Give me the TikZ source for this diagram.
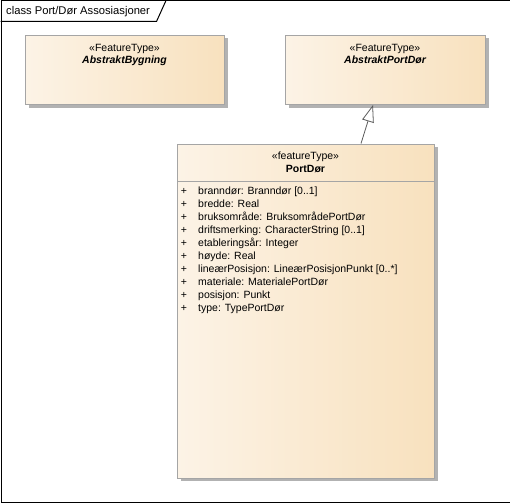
\documentclass[tikz,border=0pt]{standalone}
\usepackage{fontspec}
\setmainfont{Liberation Sans}
\usetikzlibrary{arrows.meta,shadows}
\definecolor{gradL}{RGB}{252,243,230}
\definecolor{gradR}{RGB}{248,225,190}
\definecolor{bordergray}{RGB}{165,165,165}
\definecolor{shadowgray}{RGB}{178,178,178}
\definecolor{linegray}{RGB}{90,90,90}
\begin{document}
\begin{tikzpicture}[x=1pt,y=-1pt,
  classbox/.style={draw=bordergray, line width=1pt, left color=gradL, right color=gradR,
    anchor=north west, inner sep=0pt,
    drop shadow={shadow xshift=3pt, shadow yshift=-3pt, fill=shadowgray, opacity=1}},
  txt/.style={font=\fontsize{10.5}{12}\selectfont, inner sep=0pt, anchor=base},
  attr/.style={font=\fontsize{10.5}{12}\selectfont, inner sep=0pt, anchor=base west},
  genarrow/.style={draw=linegray, line width=0.8pt, -{Triangle[open, length=17pt, width=12pt, fill=white]}}]
\useasboundingbox (0,0) rectangle (510,503);
% frame
\node[draw=black, line width=1pt, anchor=north west, minimum width=509pt, minimum height=501.5pt, inner sep=0pt] (frame) at (0.5,0.5) {};
\draw[line width=1pt] (0.5,21.5) -- (156.5,21.5) -- (166,0.5);
\node[font=\fontsize{11.2}{13}\selectfont, inner sep=0pt, anchor=base west] (title) at (6,14.5) {class Port/Dør Assosiasjoner};
% AbstraktBygning
\node[classbox, minimum width=199pt, minimum height=69pt] (ab) at (25,35) {};
\node[txt] (abs) at (124.5,51.5) {«FeatureType»};
\node[txt, font=\fontsize{10.5}{12}\selectfont\bfseries\itshape] (abn) at (124.5,63.5) {AbstraktBygning};
% AbstraktPortDør
\node[classbox, minimum width=200pt, minimum height=69pt] (apd) at (285,35) {};
\node[txt] (apds) at (385,51.5) {«FeatureType»};
\node[txt, font=\fontsize{10.5}{12}\selectfont\bfseries\itshape] (apdn) at (385,63.5) {AbstraktPortDør};
% PortDør
\node[classbox, minimum width=257pt, minimum height=334pt] (pd) at (177,143.5) {};
\draw[draw=bordergray, line width=1pt] ([yshift=-37.5pt]pd.north west) -- ([yshift=-37.5pt]pd.north east);
\node[txt] (pds) at (305.5,159) {«featureType»};
\node[txt, font=\fontsize{10.5}{12}\selectfont\bfseries] (pdn) at (305.5,172) {PortDør};
\foreach \t [count=\i from 0] in {branndør: Branndør [0..1], bredde: Real, bruksområde: BruksområdePortDør, driftsmerking: CharacterString [0..1], etableringsår: Integer, høyde: Real, lineærPosisjon: LineærPosisjonPunkt [0..*], materiale: MaterialePortDør, posisjon: Punkt, type: TypePortDør}{
  \node[txt] (plus\i) at (184,194+13*\i) {+};
  \node[attr] (a\i) at (198,194+13*\i) {\t};
}
% generalization
\draw[genarrow] ([xshift=184pt]pd.north west) -- ([xshift=88pt]apd.south west);
\end{tikzpicture}
\end{document}
